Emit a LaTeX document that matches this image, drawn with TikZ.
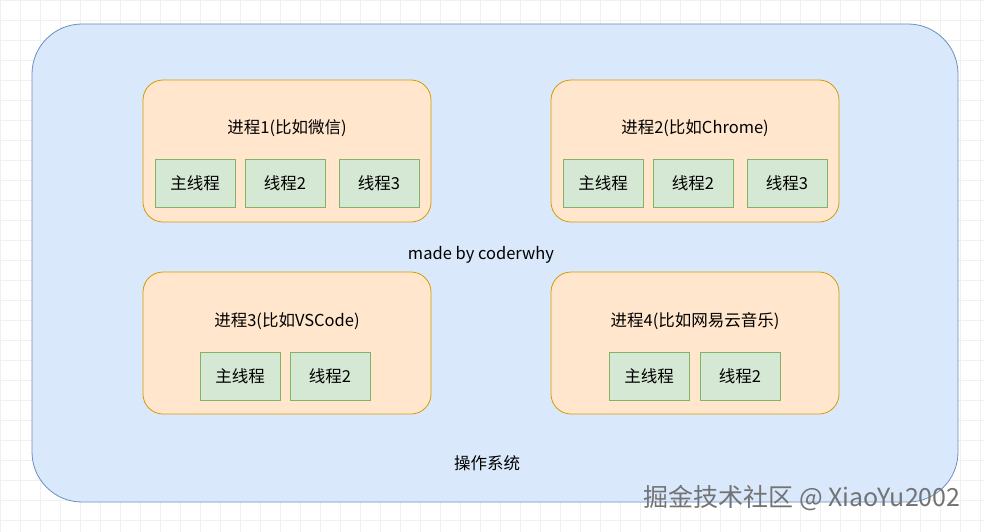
\documentclass[tikz,border=0pt]{standalone}
\usepackage{fontspec}
\setmainfont{Noto Sans CJK SC}
\definecolor{osf}{HTML}{DAE8FC}\definecolor{osd}{HTML}{6C8EBF}
\definecolor{prf}{HTML}{FFE6CC}\definecolor{prd}{HTML}{D79B00}
\definecolor{thf}{HTML}{D5E8D4}\definecolor{thd}{HTML}{82B366}
\begin{document}
\begin{tikzpicture}[x=1pt,y=-1pt,
  osbox/.style={draw=osd,fill=osf,line width=0.8pt,rounded corners=50pt},
  probox/.style={draw=prd,fill=prf,line width=0.8pt,rounded corners=20pt},
  thbox/.style={draw=thd,fill=thf,line width=0.8pt,minimum width=80pt,minimum height=48pt,inner sep=0pt,font=\fontsize{16.5}{19}\selectfont},
  lbl/.style={font=\fontsize{16.5}{19}\selectfont}]
\useasboundingbox (0,0) rectangle (984,532);
\fill[white] (0,0) rectangle (984,532);
\draw[black!6,step=20pt] (0,0) grid (984,532);
\draw[osbox] (32,24) rectangle (958,502);
\draw[probox] (143,80) rectangle (431,222);
\draw[probox] (551,80) rectangle (839,222);
\draw[probox] (143,272) rectangle (431,414);
\draw[probox] (551,272) rectangle (839,414);
\node[lbl] (t1) at (287,128) {进程1(比如微信)};
\node[lbl] (t2) at (695,128) {进程2(比如Chrome)};
\node[lbl] (t3) at (287,321) {进程3(比如VSCode)};
\node[lbl] (t4) at (695,321) {进程4(比如网易云音乐)};
\node[thbox] (a1) at (195,183) {主线程};
\node[thbox] (a2) at (285,183) {线程2};
\node[thbox] (a3) at (379,183) {线程3};
\node[thbox] (b1) at (603,183) {主线程};
\node[thbox] (b2) at (693,183) {线程2};
\node[thbox] (b3) at (787,183) {线程3};
\node[thbox] (c1) at (240,376) {主线程};
\node[thbox] (c2) at (330,376) {线程2};
\node[thbox] (d1) at (649,376) {主线程};
\node[thbox] (d2) at (740,376) {线程2};
\node[lbl] (m) at (481,255) {made by coderwhy};
\node[lbl] (os) at (487,463) {操作系统};
\node[font=\fontsize{25}{28}\selectfont,text=black!55] (w) at (802,498) {掘金技术社区 @ XiaoYu2002};
\end{tikzpicture}
\end{document}
